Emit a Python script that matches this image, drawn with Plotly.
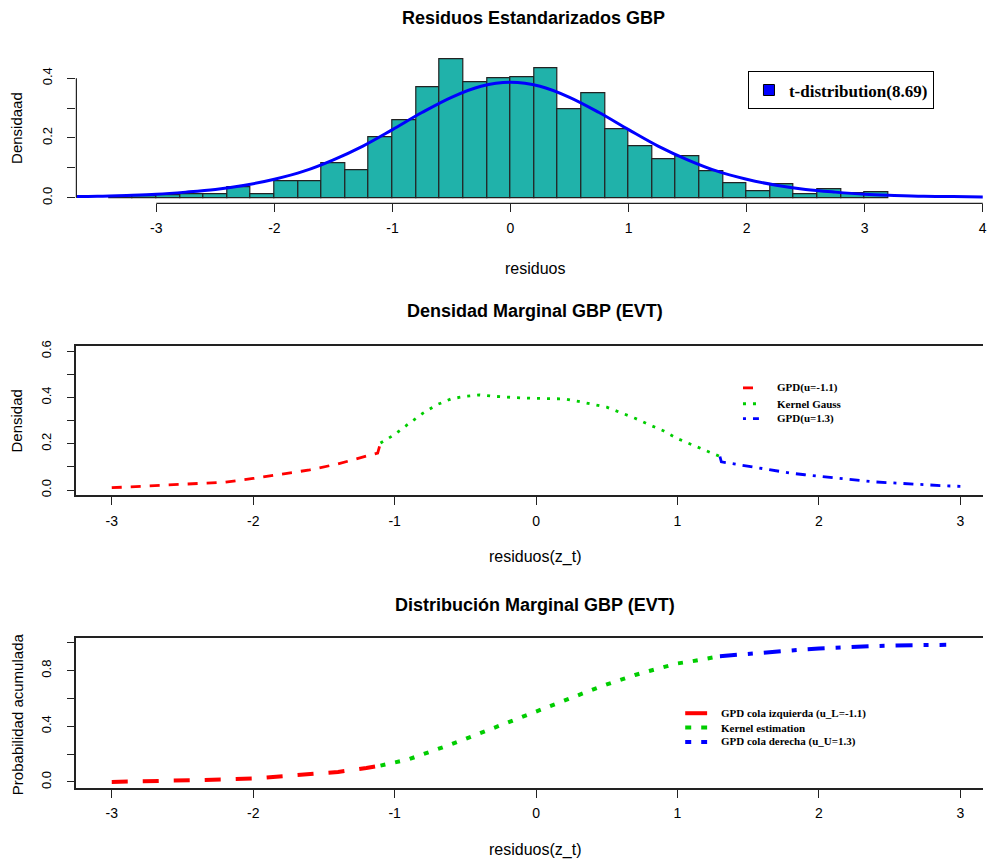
import plotly.graph_objects as go

W, H = 987, 863

# ---------------- data ----------------
# Panel 1: histogram of standardized residuals (bin left edges, width 0.2) and density
hist_left = [-3.4, -3.2, -3.0, -2.8, -2.6, -2.4, -2.2, -2.0, -1.8, -1.6, -1.4, -1.2, -1.0,
             -0.8, -0.6, -0.4, -0.2, 0.0, 0.2, 0.4, 0.6, 0.8, 1.0, 1.2, 1.4, 1.6, 1.8,
             2.0, 2.2, 2.4, 2.6, 2.8, 3.0]
hist_density = [0.004, 0.005, 0.009, 0.012, 0.012, 0.035, 0.013, 0.055, 0.055, 0.117, 0.093,
                0.203, 0.260, 0.368, 0.464, 0.385, 0.400, 0.404, 0.432, 0.296, 0.348, 0.228,
                0.171, 0.129, 0.139, 0.088, 0.050, 0.023, 0.046, 0.013, 0.029, 0.015, 0.020]
bin_width = 0.2

t_x = [-3.75, -3.5, -3.25, -3.0, -2.75, -2.5, -2.25, -2.0, -1.75, -1.5, -1.25, -1.0, -0.75,
       -0.5, -0.25, 0.0, 0.25, 0.5, 0.75, 1.0, 1.25, 1.5, 1.75, 2.0, 2.25, 2.5, 2.75, 3.0,
       3.25, 3.5, 3.75, 4.0]
t_y = [0.004, 0.005, 0.008, 0.012, 0.019, 0.028, 0.042, 0.062, 0.089, 0.127, 0.173, 0.228,
       0.285, 0.336, 0.373, 0.386, 0.373, 0.336, 0.285, 0.228, 0.173, 0.127, 0.089, 0.062,
       0.042, 0.028, 0.019, 0.012, 0.008, 0.005, 0.004, 0.0025]

# Panel 2: marginal density (EVT)
dens_low_x = [-3.0, -2.8, -2.6, -2.4, -2.2, -2.0, -1.8, -1.6, -1.4, -1.2, -1.12, -1.1]
dens_low_y = [0.010, 0.016, 0.019, 0.025, 0.034, 0.050, 0.067, 0.087, 0.113, 0.148, 0.160, 0.203]
dens_ker_x = [-1.1, -1.0, -0.9, -0.8, -0.7, -0.6, -0.5, -0.4, -0.3, -0.2, -0.1, 0.0, 0.1,
              0.2, 0.3, 0.4, 0.5, 0.6, 0.7, 0.8, 0.9, 1.0, 1.1, 1.2, 1.3]
dens_ker_y = [0.203, 0.240, 0.287, 0.332, 0.369, 0.394, 0.405, 0.411, 0.405, 0.400, 0.398,
              0.396, 0.396, 0.394, 0.383, 0.370, 0.358, 0.334, 0.310, 0.282, 0.256, 0.222,
              0.196, 0.170, 0.145]
dens_up_x = [1.3, 1.31, 1.4, 1.5, 1.6, 1.7, 1.8, 1.9, 2.0, 2.1, 2.2, 2.3, 2.4, 2.5, 2.6,
             2.7, 2.8, 2.9, 3.0]
dens_up_y = [0.145, 0.122, 0.113, 0.103, 0.093, 0.082, 0.073, 0.066, 0.059, 0.052, 0.046,
             0.041, 0.035, 0.031, 0.027, 0.023, 0.021, 0.018, 0.016]

# Panel 3: marginal distribution (EVT)
cdf_low_x = [-3.0, -2.8, -2.6, -2.4, -2.2, -2.0, -1.8, -1.6, -1.4, -1.2, -1.1]
cdf_low_y = [0.000, 0.003, 0.008, 0.013, 0.018, 0.025, 0.040, 0.053, 0.072, 0.100, 0.117]
cdf_ker_x = [-1.1, -1.0, -0.9, -0.8, -0.7, -0.6, -0.5, -0.4, -0.3, -0.2, -0.1, 0.0, 0.1,
             0.2, 0.3, 0.4, 0.5, 0.6, 0.7, 0.8, 0.9, 1.0, 1.1, 1.2, 1.3]
cdf_ker_y = [0.117, 0.138, 0.163, 0.199, 0.233, 0.270, 0.309, 0.349, 0.386, 0.426, 0.469,
             0.508, 0.546, 0.587, 0.624, 0.663, 0.700, 0.736, 0.768, 0.797, 0.827, 0.851,
             0.866, 0.886, 0.903]
cdf_up_x = [1.3, 1.4, 1.5, 1.6, 1.7, 1.8, 1.9, 2.0, 2.1, 2.2, 2.3, 2.4, 2.5, 2.6, 2.7, 2.8, 2.9]
cdf_up_y = [0.903, 0.912, 0.922, 0.932, 0.940, 0.947, 0.952, 0.958, 0.964, 0.969, 0.973,
            0.976, 0.979, 0.981, 0.983, 0.984, 0.985]

# tick labels
x1_ticks = [-3, -2, -1, 0, 1, 2, 3, 4]
x23_ticks = [-3, -2, -1, 0, 1, 2, 3]
y1_ticks = [0.0, 0.1, 0.2, 0.3, 0.4]
y1_text = ["0.0", "", "0.2", "", "0.4"]
y2_ticks = [0.0, 0.1, 0.2, 0.3, 0.4, 0.5, 0.6]
y2_text = ["0.0", "", "0.2", "", "0.4", "", "0.6"]
y3_ticks = [0.0, 0.2, 0.4, 0.6, 0.8, 1.0]
y3_text = ["0.0", "", "0.4", "", "0.8", ""]

# ---------------- styling ----------------
RED = "#FF0000"
GREEN = "#00CD00"
BLUE = "#0000FF"
TEAL = "#20B2AA"
AX = "#222222"
SANS = "Liberation Sans, Arial, sans-serif"
SERIF = "Liberation Serif, Times New Roman, serif"


def px(x):
    return x / W


def py(y):
    return 1 - y / H


fig = go.Figure()

# Panel 1
fig.add_trace(go.Bar(x=hist_left, y=hist_density, width=bin_width, offset=0,
                     marker=dict(color=TEAL, line=dict(color=AX, width=1.2)),
                     showlegend=False, xaxis="x", yaxis="y"))
fig.add_trace(go.Scatter(x=t_x, y=t_y, mode="lines", line=dict(color=BLUE, width=3, shape="spline"),
                         showlegend=False, xaxis="x", yaxis="y"))
fig.add_trace(go.Scatter(x=[None], y=[None], mode="markers", name="<b>t-distribution(8.69)</b>",
                         marker=dict(symbol="square", size=11, color=BLUE, line=dict(color="#000", width=1)),
                         showlegend=True, xaxis="x", yaxis="y"))

# Panel 2
fig.add_trace(go.Scatter(x=dens_low_x, y=dens_low_y, mode="lines",
                         line=dict(color=RED, width=2.8, dash="10px,9px"),
                         showlegend=False, xaxis="x2", yaxis="y2"))
fig.add_trace(go.Scatter(x=dens_ker_x, y=dens_ker_y, mode="lines",
                         line=dict(color=GREEN, width=2.8, dash="3px,7px"),
                         showlegend=False, xaxis="x2", yaxis="y2"))
fig.add_trace(go.Scatter(x=dens_up_x, y=dens_up_y, mode="lines",
                         line=dict(color=BLUE, width=2.8, dash="10px,7px,3px,7px"),
                         showlegend=False, xaxis="x2", yaxis="y2"))

# Panel 3
fig.add_trace(go.Scatter(x=cdf_low_x, y=cdf_low_y, mode="lines",
                         line=dict(color=RED, width=4, dash="16px,15px"),
                         showlegend=False, xaxis="x3", yaxis="y3"))
fig.add_trace(go.Scatter(x=cdf_ker_x, y=cdf_ker_y, mode="lines",
                         line=dict(color=GREEN, width=4, dash="5px,10px"),
                         showlegend=False, xaxis="x3", yaxis="y3"))
fig.add_trace(go.Scatter(x=cdf_up_x, y=cdf_up_y, mode="lines",
                         line=dict(color=BLUE, width=4, dash="17px,11px,5px,11px"),
                         showlegend=False, xaxis="x3", yaxis="y3"))

tickfont = dict(family=SANS, size=14, color="#000")
ytickfont = dict(family=SANS, size=13, color="#000")
common_x = dict(ticks="outside", ticklen=8, tickwidth=1.2, tickcolor=AX, tickfont=tickfont,
                showgrid=False, zeroline=False, ticklabelstandoff=4, ticklabeloverflow="allow")
common_y = dict(ticks="outside", ticklen=8, tickwidth=1.2, tickcolor=AX, tickfont=ytickfont,
                showgrid=False, zeroline=False, tickangle=-90, ticklabelstandoff=10)

x_dom = [px(76.7), 1.0]

fig.update_layout(
    width=W, height=H, margin=dict(l=0, r=0, t=0, b=0),
    paper_bgcolor="white", plot_bgcolor="white", bargap=0,
    xaxis=dict(domain=x_dom, range=[-3.677, 4.002], anchor="y", showline=False,
               tickvals=x1_ticks, ticktext=[str(v) for v in x1_ticks], **common_x),
    yaxis=dict(domain=[py(200), py(48.7)], range=[-0.0186, 0.483], anchor="x", showline=False,
               tickvals=y1_ticks, ticktext=y1_text, **common_y),
    xaxis2=dict(domain=x_dom, range=[-3.25, 3.16], anchor="y2", showline=True, mirror=True,
                linecolor=AX, linewidth=1.5,
                tickvals=x23_ticks, ticktext=[str(v) for v in x23_ticks], **common_x),
    yaxis2=dict(domain=[py(494), py(343.3)], range=[-0.0214, 0.6245], anchor="x2", showline=True,
                linecolor=AX, linewidth=1.5,
                tickvals=y2_ticks, ticktext=y2_text, **common_y),
    xaxis3=dict(domain=x_dom, range=[-3.25, 3.16], anchor="y3", showline=True, mirror=True,
                linecolor=AX, linewidth=1.5,
                tickvals=x23_ticks, ticktext=[str(v) for v in x23_ticks], **common_x),
    yaxis3=dict(domain=[py(789.3), py(638.3)], range=[-0.0427, 1.0328], anchor="x3", showline=True,
                linecolor=AX, linewidth=1.5,
                tickvals=y3_ticks, ticktext=y3_text, **common_y),
    legend=dict(x=px(751), y=py(67), xanchor="left", yanchor="top",
                bordercolor="#000", borderwidth=1, bgcolor="white",
                font=dict(family=SERIF, size=17, color="#000"), itemwidth=30),
)

# Panel 1 axis lines (R-style: from first to last tick)
fig.add_shape(type="line", xref="x", yref="y domain", x0=x1_ticks[0], x1=x1_ticks[-1], y0=0, y1=0,
              line=dict(color=AX, width=1.2))
fig.add_shape(type="line", xref="x domain", yref="y", x0=0, x1=0, y0=y1_ticks[0], y1=y1_ticks[-1],
              line=dict(color=AX, width=1.2))

# Titles and axis labels
def ann(text, x, y, size, bold=False, angle=0, family=SANS):
    fig.add_annotation(text=f"<b>{text}</b>" if bold else text, x=px(x), y=py(y),
                       xref="paper", yref="paper", xanchor="center", yanchor="middle",
                       showarrow=False, textangle=angle,
                       font=dict(family=family, size=size, color="#000"))

ann("Residuos Estandarizados GBP", 536, 13, 18, bold=True)
ann("Densidad Marginal GBP (EVT)", 537, 309, 18, bold=True)
ann("Distribución Marginal GBP (EVT)", 537, 605, 18, bold=True)
ann("residuos", 537, 266, 16)
ann("residuos(z_t)", 537, 557, 16)
ann("residuos(z_t)", 537, 852, 16)
ann("Densidaad", 17, 124, 15, angle=-90)
ann("Densidad", 17, 419, 15, angle=-90)
ann("Probabilidad acumulada", 17, 715, 15, angle=-90)

# Manual legends for panels 2 and 3
leg2 = [("GPD(u=-1.1)", RED, "10px,9px", 386),
        ("Kernel Gauss", GREEN, "3px,7px", 402),
        ("GPD(u=1.3)", BLUE, "3px,7px,10px,7px", 417)]
for text, col, dash, y in leg2:
    fig.add_shape(type="line", xref="paper", yref="paper", x0=px(746), x1=px(762), y0=py(y), y1=py(y),
                  line=dict(color=col, width=2.8, dash=dash))
    fig.add_annotation(text=f"<b>{text}</b>", x=px(778), y=py(y), xref="paper", yref="paper",
                       xanchor="left", yanchor="middle", showarrow=False,
                       font=dict(family=SERIF, size=11, color="#000"))

leg3 = [("GPD cola izquierda (u_L=-1.1)", RED, "solid", 714),
        ("Kernel estimation", GREEN, "6px,10px", 728.5),
        ("GPD cola derecha (u_U=1.3)", BLUE, "6px,10px", 743)]
for text, col, dash, y in leg3:
    fig.add_shape(type="line", xref="paper", yref="paper", x0=px(688), x1=px(710), y0=py(y), y1=py(y),
                  line=dict(color=col, width=4, dash=dash))
    fig.add_annotation(text=f"<b>{text}</b>", x=px(722), y=py(y), xref="paper", yref="paper",
                       xanchor="left", yanchor="middle", showarrow=False,
                       font=dict(family=SERIF, size=11, color="#000"))

fig.write_html("out.html", config={"displayModeBar": False},
               post_script="document.body.style.margin='0';document.body.style.overflow='hidden';")
